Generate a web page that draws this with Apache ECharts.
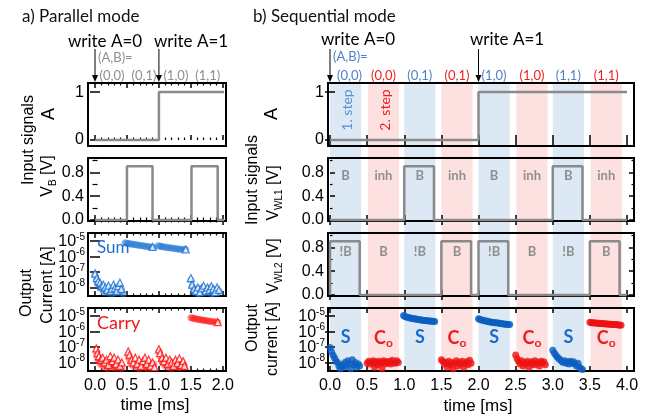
<!DOCTYPE html>
<html><head><meta charset="utf-8">
<script src="https://cdn.jsdelivr.net/npm/echarts@6/dist/echarts.min.js"></script>
<style>html,body{margin:0;padding:0;background:#fff}#c{width:654px;height:420px}</style>
</head><body><div id="c"></div>
<script>
// ---------------- tick labels ----------------
const parMajor = [0, 0.5, 1.0, 1.5, 2.0];
const parMinor = [0.1,0.2,0.3,0.4,0.6,0.7,0.8,0.9,1.1,1.2,1.3,1.4,1.6,1.7,1.8,1.9];
const seqMajor = [0, 0.5, 1.0, 1.5, 2.0, 2.5, 3.0, 3.5, 4.0];
const aTicks = [0, 1];
const vTicks = [0, 0.4, 0.8];
const vMinor = [0.2, 0.6, 1.0];
const logTickExponents = [-8, -7, -6, -5];   // labels 10^-8 ... 10^-5

// ---------------- a) parallel mode ----------------
const parA = [[0,0],[1,0],[1,1],[2.02,1]];
const parVB = [[0,0],[0.5,0],[0.5,0.9],[0.9,0.9],[0.9,0],[1.51,0],[1.51,0.9],[1.92,0.9],[1.92,0],[2.02,0]];
const sumTriangles = [[0.0,8e-8],[0.03,4e-8],[0.05,2.5e-8],[0.08,2e-8],[0.1,1.2e-8],[0.13,1.5e-8],[0.16,1e-8],[0.19,7e-9],[0.21,1.3e-8],[0.24,6e-9],[0.26,8e-9],[0.29,1.5e-8],[0.31,9e-9],[0.34,6e-9],[0.36,1.2e-8],[0.39,2e-8],[0.41,8e-9],
  [0.9,4e-6],[1.42,2.8e-6],
  [1.5,4e-8],[1.52,1.5e-8],[1.55,8e-9],[1.58,6e-9],[1.61,1e-8],[1.64,5e-9],[1.67,9e-9],[1.7,1.3e-8],[1.73,6e-9],[1.76,1e-8],[1.79,7e-9],[1.82,1.2e-8],[1.85,8e-9],[1.88,5e-9],[1.91,1e-8],[1.94,7e-9]];
const sumCircles = [[0.0,6e-8],[0.02,3e-8],[0.04,2e-8],[0.06,1.4e-8],[0.08,9e-9],[0.1,1.1e-8],[0.12,7e-9],[0.14,5e-9],[0.16,8e-9],[0.18,6e-9],[0.2,4.5e-9],[0.22,9e-9],[0.24,6e-9],[0.26,4e-9],[0.28,7e-9],[0.3,5e-9],[0.32,8e-9],[0.34,4.5e-9],[0.36,6e-9],[0.38,9e-9],[0.4,5e-9],[0.42,7e-9],[0.44,4e-9],
  [0.47,7.5e-6],[0.49,7e-6],[0.51,6.8e-6],[0.53,6.6e-6],[0.55,6.3e-6],[0.57,6.1e-6],[0.6,5.9e-6],[0.62,5.7e-6],[0.64,5.5e-6],[0.67,5.3e-6],[0.69,5.1e-6],[0.72,5e-6],[0.74,4.8e-6],[0.77,4.6e-6],[0.79,4.5e-6],[0.82,4.3e-6],[0.84,4.2e-6],[0.87,4e-6],[0.89,3.9e-6],[0.92,3.8e-6],
  [0.99,4.8e-6],[1.01,4.6e-6],[1.03,4.4e-6],[1.05,4.2e-6],[1.07,4.1e-6],[1.1,3.9e-6],[1.12,3.8e-6],[1.15,3.6e-6],[1.17,3.5e-6],[1.2,3.4e-6],[1.22,3.3e-6],[1.25,3.2e-6],[1.27,3.1e-6],[1.3,3e-6],[1.32,2.9e-6],[1.35,2.9e-6],[1.37,2.8e-6],[1.4,2.7e-6],[1.42,2.7e-6],
  [1.5,3e-8],[1.52,1.2e-8],[1.54,7e-9],[1.56,5e-9],[1.58,8e-9],[1.6,6e-9],[1.62,4e-9],[1.64,9e-9],[1.66,6e-9],[1.68,5e-9],[1.7,8e-9],[1.72,4.5e-9],[1.74,7e-9],[1.76,5e-9],[1.78,9e-9],[1.8,6e-9],[1.82,4e-9],[1.84,8e-9],[1.86,6e-9],[1.88,5e-9],[1.9,7e-9],[1.92,4.5e-9],[1.94,6e-9]];
const carryTriangles = [[0.02,8e-8],[0.04,4e-8],[0.06,2.5e-8],[0.09,1.5e-8],[0.12,2e-8],[0.15,1e-8],[0.18,1.5e-8],[0.21,7e-9],[0.24,2.5e-8],[0.27,1.2e-8],[0.3,2e-8],[0.33,8e-9],[0.36,1.5e-8],[0.39,6e-9],[0.42,1e-8],
  [0.52,5e-8],[0.54,3e-8],[0.57,1.5e-8],[0.6,1e-8],[0.63,2e-8],[0.66,8e-9],[0.69,1.5e-8],[0.72,6e-9],[0.75,1.2e-8],[0.78,2e-8],[0.81,8e-9],[0.84,1.5e-8],[0.87,6e-9],[0.9,1e-8],[0.93,5e-9],
  [1.0,7e-8],[1.02,4e-8],[1.05,2e-8],[1.08,1.2e-8],[1.11,2e-8],[1.14,8e-9],[1.17,1.5e-8],[1.2,1e-8],[1.23,6e-9],[1.26,1.5e-8],[1.29,9e-9],[1.32,1.8e-8],[1.35,7e-9],[1.38,1.2e-8],[1.4,6e-9],
  [1.92,3.9e-6]];
const carryCircles = [[0.02,4e-8],[0.04,2e-8],[0.06,1.2e-8],[0.08,8e-9],[0.1,1.1e-8],[0.12,6e-9],[0.14,9e-9],[0.16,5e-9],[0.18,7e-9],[0.2,4e-9],[0.22,8e-9],[0.24,6e-9],[0.26,1e-8],[0.28,5e-9],[0.3,7e-9],[0.32,4e-9],[0.34,9e-9],[0.36,6e-9],[0.38,5e-9],[0.4,8e-9],[0.42,4e-9],
  [0.52,3e-8],[0.54,1.5e-8],[0.56,8e-9],[0.58,1.1e-8],[0.6,6e-9],[0.62,9e-9],[0.64,5e-9],[0.66,1e-8],[0.68,7e-9],[0.7,4e-9],[0.72,8e-9],[0.74,6e-9],[0.76,1.1e-8],[0.78,5e-9],[0.8,8e-9],[0.82,4e-9],[0.84,9e-9],[0.86,6e-9],[0.88,7e-9],[0.9,5e-9],[0.92,8e-9],
  [1.0,5e-8],[1.02,2.5e-8],[1.04,1.3e-8],[1.06,9e-9],[1.08,1.2e-8],[1.1,6e-9],[1.12,9e-9],[1.14,5e-9],[1.16,1e-8],[1.18,7e-9],[1.2,4e-9],[1.22,8e-9],[1.24,6e-9],[1.26,1.1e-8],[1.28,5e-9],[1.3,8e-9],[1.32,4.5e-9],[1.34,9e-9],[1.36,6e-9],[1.38,7e-9],[1.4,5e-9],
  [1.5,7.5e-6],[1.52,7.2e-6],[1.54,6.9e-6],[1.56,6.6e-6],[1.58,6.3e-6],[1.61,6e-6],[1.63,5.8e-6],[1.65,5.6e-6],[1.68,5.4e-6],[1.7,5.2e-6],[1.72,5e-6],[1.75,4.8e-6],[1.77,4.6e-6],[1.8,4.5e-6],[1.82,4.3e-6],[1.85,4.2e-6],[1.87,4.1e-6],[1.9,4e-6],[1.92,3.9e-6]];

// ---------------- b) sequential mode ----------------
const seqA = [[0,0],[2,0],[2,1],[4,1]];
const seqWL1 = [[0,0],[1.0,0],[1.0,0.9],[1.4,0.9],[1.4,0],[3.0,0],[3.0,0.9],[3.4,0.9],[3.4,0],[4.0,0]];
const seqWL2 = [[0,0],[0,0.9],[0.4,0.9],[0.4,0],[1.5,0],[1.5,0.9],[1.9,0.9],[1.9,0],[2.0,0],[2.0,0.9],[2.4,0.9],[2.4,0],[3.5,0],[3.5,0.9],[3.9,0.9],[3.9,0],[4.0,0]];
const seqSum = [[0.0,9e-8],[0.02,5e-8],[0.04,3e-8],[0.06,2e-8],[0.08,1.3e-8],[0.1,1e-8],[0.12,6e-9],[0.14,4e-9],[0.16,7e-9],[0.18,5e-9],[0.2,1e-8],[0.22,6e-9],[0.24,1.3e-8],[0.26,8e-9],[0.28,4e-9],[0.3,1.5e-8],[0.32,7e-9],[0.34,1e-8],[0.36,5e-9],[0.38,8e-9],[0.4,6e-9],
  [0.99,1.05e-5],[1.01,9e-6],[1.03,8.3e-6],[1.05,7.8e-6],[1.07,7.4e-6],[1.09,7e-6],[1.11,6.7e-6],[1.13,6.4e-6],[1.15,6.1e-6],[1.17,5.9e-6],[1.19,5.7e-6],[1.21,5.5e-6],[1.23,5.3e-6],[1.25,5.1e-6],[1.27,5e-6],[1.29,4.9e-6],[1.31,4.8e-6],[1.33,4.7e-6],[1.35,4.6e-6],[1.37,4.5e-6],[1.39,4.4e-6],[1.41,4.3e-6],
  [2.0,6.5e-6],[2.02,5.8e-6],[2.04,5.4e-6],[2.06,5.1e-6],[2.08,4.8e-6],[2.1,4.6e-6],[2.12,4.4e-6],[2.14,4.2e-6],[2.16,4e-6],[2.18,3.9e-6],[2.2,3.7e-6],[2.22,3.6e-6],[2.24,3.5e-6],[2.26,3.4e-6],[2.28,3.3e-6],[2.3,3.2e-6],[2.32,3.1e-6],[2.34,3e-6],[2.36,2.9e-6],[2.38,2.9e-6],[2.4,2.8e-6],[2.42,2.7e-6],
  [3.0,6e-8],[3.02,4e-8],[3.04,3e-8],[3.06,2.2e-8],[3.08,1.8e-8],[3.1,1.5e-8],[3.12,1.2e-8],[3.14,1e-8],[3.16,1.3e-8],[3.18,9e-9],[3.2,1.1e-8],[3.22,8e-9],[3.24,1.2e-8],[3.26,9e-9],[3.28,1.1e-8],[3.3,8e-9],[3.32,6e-9],[3.34,9e-9],[3.36,5e-9],[3.38,4e-9],[3.4,3.5e-9]];
const seqCarry = [[0.5,9e-9],[0.52,1.2e-8],[0.54,8e-9],[0.56,1e-8],[0.58,1.3e-8],[0.6,9e-9],[0.62,1.1e-8],[0.64,7e-9],[0.66,1.2e-8],[0.68,9e-9],[0.7,1e-8],[0.72,1.3e-8],[0.74,8e-9],[0.76,1.1e-8],[0.78,9e-9],[0.8,1.2e-8],[0.82,8e-9],[0.84,1.4e-8],[0.86,1e-8],[0.88,9e-9],[0.9,1.3e-8],[0.92,1e-8],[0.6,5e-9],[0.7,4e-9],
  [1.5,1.5e-8],[1.52,1.2e-8],[1.54,8e-9],[1.56,1e-8],[1.58,5e-9],[1.6,1.2e-8],[1.62,7e-9],[1.64,1e-8],[1.66,4e-9],[1.68,9e-9],[1.7,1.3e-8],[1.72,6e-9],[1.74,1e-8],[1.76,8e-9],[1.78,1.2e-8],[1.8,5e-9],[1.82,9e-9],[1.84,1.1e-8],[1.86,7e-9],[1.88,1.4e-8],[1.9,9e-9],
  [2.5,3e-8],[2.52,1.8e-8],[2.54,1.2e-8],[2.56,8e-9],[2.58,1.3e-8],[2.6,6e-9],[2.62,1e-8],[2.64,8e-9],[2.66,1.2e-8],[2.68,5e-9],[2.7,9e-9],[2.72,1.1e-8],[2.74,7e-9],[2.76,1.3e-8],[2.78,8e-9],[2.8,1e-8],[2.82,6e-9],[2.84,1.2e-8],[2.86,9e-9],[2.88,1.1e-8],[2.9,7e-9],
  [3.5,3.8e-6],[3.52,3.6e-6],[3.54,3.5e-6],[3.56,3.4e-6],[3.58,3.4e-6],[3.6,3.3e-6],[3.62,3.3e-6],[3.64,3.2e-6],[3.66,3.2e-6],[3.68,3.1e-6],[3.7,3.1e-6],[3.72,3e-6],[3.74,3e-6],[3.76,2.9e-6],[3.78,2.9e-6],[3.8,2.8e-6],[3.82,2.8e-6],[3.84,2.7e-6],[3.86,2.7e-6],[3.88,2.6e-6],[3.9,2.6e-6],[3.92,2.5e-6]];
const bandStart = [0, 0.51, 1.0, 1.5, 2.0, 2.51, 3.0, 3.51];
const bandEnd   = [0.42, 0.93, 1.42, 1.92, 2.42, 2.93, 3.42, 3.93];
const pairLabels = ['(0,0)','(0,0)','(0,1)','(0,1)','(1,0)','(1,0)','(1,1)','(1,1)'];
const wl1Labels = ['B','inh','B','inh','B','inh','B','inh'];
const wl2Labels = ['!B','B','!B','B','!B','B','!B','B'];
const outLabels = ['S','Co','S','Co','S','Co','S','Co'];
const stepLabels = ['1. step','2. step'];
const parPairLabels = ['(0,0)','(0,1)','(1,0)','(1,1)'];
const parPairTimes = [0.25, 0.75, 1.25, 1.75];

// currents are plotted on a decade (log10) value axis
const toDecades = d => d.map(p => [p[0], Math.log10(p[1])]);

// ---------------- styles ----------------
const FONT = '"Liberation Sans", Arial, sans-serif';
const CAL = 'Lato, "Open Sans", sans-serif';
const GREY = '#8a8a8a', BLUE_BAND = '#dce8f4', RED_BAND = '#fde0e0';
const TOPS = [83, 158, 233, 308], H = 63;
const SIDES = [
  {left:88, width:138, min:-0.11, max:2.05, major:parMajor, minor:parMinor},
  {left:328, width:306, min:-0.027, max:4.094, major:seqMajor, minor:[]}
];
const Y_A = {min:-0.125, max:1.19, major:aTicks, minor:[], fmt:v=>String(v), labels:true};
const Y_V = {min:-0.017, max:1.04, major:vTicks, minor:vMinor, fmt:v=>v.toFixed(1), labels:true};
const Y_L = {min:-8.55, max:-4.5, major:logTickExponents, minor:[], labels:false, log:true};

const grids=[], xAxes=[], yAxes=[], series=[];
const P = [[],[]];
const logPanels = [];
function addPanel(side,row,Y){
  const S = SIDES[side]; const gi = grids.length;
  grids.push({left:S.left, top:TOPS[row], width:S.width, height:H, show:true, borderColor:'#000', borderWidth:2,
    backgroundColor:'rgba(0,0,0,0)', z:1, containLabel:false, outerBoundsMode:'none'});
  const xi = xAxes.length;
  const xb = {type:'value', gridIndex:gi, min:S.min, max:S.max, axisLine:{show:false}, splitLine:{show:false}, z:3};
  for (const pos of ['bottom','top']) {
    xAxes.push(Object.assign({}, xb, {position:pos,
      axisTick:{show:true, inside:true, length:5, lineStyle:{color:'#000', width:1.5}, customValues:S.major},
      axisLabel:{show:(row===3 && pos==='bottom'), customValues:S.major, formatter:v=>v.toFixed(1), color:'#000', fontSize:16, fontFamily:FONT, margin:7, hideOverlap:false}}));
    if (S.minor.length) xAxes.push(Object.assign({}, xb, {position:pos,
      axisTick:{show:true, inside:true, length:2.5, lineStyle:{color:'#000', width:1.2}, customValues:S.minor}, axisLabel:{show:false}}));
  }
  const yi = yAxes.length;
  const yb = {type:'value', gridIndex:gi, min:Y.min, max:Y.max, axisLine:{show:false}, splitLine:{show:false}, z:3};
  for (const pos of ['left','right']) {
    yAxes.push(Object.assign({}, yb, {position:pos,
      axisTick:{show:true, inside:true, length:5, lineStyle:{color:'#000', width:1.5}, customValues:Y.major},
      axisLabel:Y.labels && pos==='left' ? {show:true, customValues:Y.major, formatter:Y.fmt, color:'#000', fontSize:16, fontFamily:FONT, margin:4, hideOverlap:false} : {show:false}}));
    if (Y.minor.length) yAxes.push(Object.assign({}, yb, {position:pos,
      axisTick:{show:true, inside:true, length:2.5, lineStyle:{color:'#000', width:1.2}, customValues:Y.minor}, axisLabel:{show:false}}));
  }
  P[side][row] = {xi, yi};
  if (Y.log) logPanels.push({yi, left:S.left});
  return {xi, yi};
}
function line(ax, data){
  series.push({type:'line', xAxisIndex:ax.xi, yAxisIndex:ax.yi, data, symbol:'none', lineStyle:{color:GREY, width:2.5}, z:4, silent:true});
}
function dots(ax, data, opt){
  series.push(Object.assign({type:'scatter', xAxisIndex:ax.xi, yAxisIndex:ax.yi, data:toDecades(data), z:4, silent:true}, opt));
}

// left panels
let a = addPanel(0,0,Y_A); line(a, parA);
a = addPanel(0,1,Y_V); line(a, parVB);
a = addPanel(0,2,Y_L);
dots(a, sumCircles, {symbol:'circle', symbolSize:7, itemStyle:{color:'#2f80d8', opacity:0.5}});
dots(a, sumTriangles, {symbol:'triangle', symbolSize:7, z:5, itemStyle:{color:'#fff', borderColor:'#1f72d0', borderWidth:1.3}});
a = addPanel(0,3,Y_L);
dots(a, carryCircles, {symbol:'circle', symbolSize:7, itemStyle:{color:'#ff2020', opacity:0.45}});
dots(a, carryTriangles, {symbol:'triangle', symbolSize:7, z:5, itemStyle:{color:'#fff', borderColor:'#ff1010', borderWidth:1.3}});
// right panels
a = addPanel(1,0,Y_A); line(a, seqA);
a = addPanel(1,1,Y_V); line(a, seqWL1);
a = addPanel(1,2,Y_V); line(a, seqWL2);
a = addPanel(1,3,Y_L);
dots(a, seqSum, {symbol:'circle', symbolSize:7, itemStyle:{color:'#0b5ec2'}});
dots(a, seqCarry, {symbol:'circle', symbolSize:7, itemStyle:{color:'#ee1111'}});

// background bands spanning all right panels
const bg = grids.length;
grids.push({left:328, top:83, width:306, height:288, show:false, containLabel:false, outerBoundsMode:'none'});
const bxi = xAxes.length; xAxes.push({type:'value', gridIndex:bg, min:SIDES[1].min, max:SIDES[1].max, show:false});
const byi = yAxes.length; yAxes.push({type:'value', gridIndex:bg, min:0, max:1, show:false});
series.push({type:'custom', xAxisIndex:bxi, yAxisIndex:byi, z:0, silent:true,
  data: bandStart.map((s,i)=>[s, bandEnd[i], i%2]),
  renderItem:(params, api)=>{
    const p0 = api.coord([api.value(0), 1]), p1 = api.coord([api.value(1), 0]);
    return {type:'rect', shape:{x:p0[0], y:p0[1], width:p1[0]-p0[0], height:p1[1]-p0[1]}, style:{fill: api.value(2) ? RED_BAND : BLUE_BAND}};
  }});

const chart = echarts.init(document.getElementById('c'), null, {renderer:'canvas', width:654, height:420});
chart.setOption({animation:false, grid:grids, xAxis:xAxes, yAxis:yAxes, series});

// ---------------- annotations ----------------
const px = (side,t)=>chart.convertToPixel({xAxisIndex:P[side][0].xi}, t);
let gid = 0;
function txt(x,y,text,size,color,o){
  o = o||{};
  const st = {text, fontSize:size, fontFamily:o.family||CAL, fontWeight:o.weight||'normal', fill:color, align:o.align||'center', verticalAlign:'middle'};
  if (o.rich) st.rich = o.rich;
  return {type:'text', id:'t'+(gid++), x, y, rotation:o.rot||0, z:20, silent:true, style:st};
}
function arrow(x, y1, y2){
  return [{type:'line', id:'l'+(gid++), z:20, silent:true, shape:{x1:x, y1:y1, x2:x, y2:y2-5}, style:{stroke:'#000', lineWidth:1}},
          {type:'polygon', id:'p'+(gid++), z:20, silent:true, shape:{points:[[x-3,y2-7],[x+3,y2-7],[x,y2]]}, style:{fill:'#000'}}];
}
const g = [];
const ROT = Math.PI/2;
const PALE_BLUE = '#4f80c8', RED_T = '#f01d1d', GREY_T = '#8f8f8f';
// decade tick labels for the current panels
const supRich = {b:{fontSize:16, fontFamily:FONT, fill:'#000', lineHeight:20}, s:{fontSize:10, fontFamily:FONT, fill:'#000', verticalAlign:'top', lineHeight:10}};
logPanels.forEach(lp=>{
  logTickExponents.forEach(e=>{
    const y = chart.convertToPixel({yAxisIndex:lp.yi}, e);
    g.push(txt(lp.left-3, y+1, '{b|10}{s|' + e + '}', 16, '#000', {family:FONT, align:'right', rich:supRich}));
  });
});
g.push(txt(22,17,'a) Parallel mode',17,'#111',{align:'left'}));
g.push(txt(253,17,'b) Sequential mode',17,'#111',{align:'left'}));
// left header
g.push(txt(105,42,'write A=0',17,'#000'));
g.push(txt(191,42,'write A=1',17,'#000'));
g.push(...arrow(px(0,0),49,82), ...arrow(px(0,1),49,82));
g.push(txt(98,58,'(A,B)=',13,GREY_T,{align:'left'}));
parPairLabels.forEach((s,i)=>g.push(txt(px(0,parPairTimes[i])+1,76,s,13,GREY_T)));
// right header
g.push(txt(358,40,'write A=0',17,'#000'));
g.push(txt(507,40,'write A=1',17,'#000'));
g.push(...arrow(px(1,0),49,82), ...arrow(px(1,2),49,82));
g.push(txt(333,57,'(A,B)=',13,PALE_BLUE,{align:'left'}));
bandStart.forEach((s,i)=>{
  const c = px(1,(s+bandEnd[i])/2);
  const col = i%2 ? RED_T : PALE_BLUE;
  g.push(txt(c + (i===0?4:0),76,pairLabels[i],13,col));
  g.push(txt(c,176,wl1Labels[i],13,GREY_T,{weight:'bold'}));
  g.push(txt(c,252,wl2Labels[i],13,GREY_T,{weight:'bold'}));
  if (outLabels[i]==='S') g.push(txt(c,337,'S',18,'#1a6ccc',{weight:'bold'}));
  else g.push(txt(c,338,'{c|C}{o|o}',18,RED_T,{weight:'bold',
    rich:{c:{fontSize:18, fontWeight:'bold', fontFamily:CAL, fill:RED_T, lineHeight:22}, o:{fontSize:12, fontWeight:'bold', fontFamily:CAL, fill:RED_T, verticalAlign:'bottom', lineHeight:12}}}));
  if (i<2) g.push(txt(c+2,110,stepLabels[i],14,i?RED_T:'#5b8ed6',{rot:ROT}));
});
// in-panel labels left
g.push(txt(97,248,'Sum',17,'#1e6fcc',{align:'left'}));
g.push(txt(97,323,'Carry',18,'#f01818',{align:'left'}));
// axis titles
g.push(txt(478,406,'time [ms]',17,'#000',{family:FONT}));
g.push(txt(155,405,'time [ms]',17,'#000',{family:FONT}));
const subRich = {n:{fontSize:16, fontFamily:FONT, fill:'#000', lineHeight:20}, sub:{fontSize:10, fontFamily:FONT, fill:'#000', verticalAlign:'bottom', lineHeight:10}};
// left
g.push(txt(29,140,'Input signals',16,'#000',{family:FONT, rot:ROT}));
g.push(txt(49,114,'A',18,'#000',{family:FONT, rot:ROT}));
g.push(txt(48,176,'{n|V}{sub|B}{n| [V]}',16,'#000',{family:FONT, rot:ROT, rich:subRich}));
g.push(txt(27,293,'Output',16,'#000',{family:FONT, rot:ROT}));
g.push(txt(48,285,'Current [A]',16,'#000',{family:FONT, rot:ROT}));
// right
g.push(txt(253,180,'Input signals',16,'#000',{family:FONT, rot:ROT}));
g.push(txt(272,114,'A',18,'#000',{family:FONT, rot:ROT}));
g.push(txt(274,193,'{n|V}{sub|WL1}{n| [V]}',16,'#000',{family:FONT, rot:ROT, rich:subRich}));
g.push(txt(274,266,'{n|V}{sub|WL2}{n| [V]}',16,'#000',{family:FONT, rot:ROT, rich:subRich}));
g.push(txt(253,328,'Output',16,'#000',{family:FONT, rot:ROT}));
g.push(txt(273,339,'current [A]',16,'#000',{family:FONT, rot:ROT}));
chart.setOption({graphic:{elements:g}});
</script></body></html>
